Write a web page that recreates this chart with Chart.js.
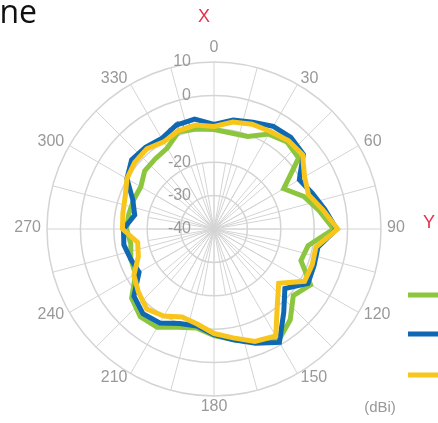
<!DOCTYPE html>
<html>
<head>
<meta charset="utf-8">
<script src="https://cdn.jsdelivr.net/npm/chart.js@4"></script>
<style>
  html, body { margin: 0; padding: 0; background: #fff; overflow: hidden; }
  #wrap { position: relative; width: 438px; height: 426px; }
</style>
</head>
<body>
<div id="wrap"><canvas id="polar"></canvas></div>
<script>
const angles = ["0","10","20","30","40","50","60","70","80","90","100","110",
  "120","130","140","150","160","170","180","190","200","210","220","230",
  "240","250","260","270","280","290","300","310","320","330","340","350"];

const tickValues = [-40, -30, -20, -10, 0, 10];

const seriesNames = ["2.4 GHz", "5.2 GHz", "5.8 GHz"];

const green = [-10.2,-10.8,-10.5,-7.2,-6.0,-6.9,-15.9,-11.4,-8.1,-4.2,-11.4,-12.3,
  -6.6,-9.0,-4.5,-1.4,-3.9,-6.3,-8.1,-9.9,-8.7,-6.0,-5.7,-7.8,
  -12.9,-13.5,-14.7,-13.8,-14.1,-14.4,-14.7,-12.9,-12.6,-12.0,-9.0,-9.6];

const blue = [-8.7,-6.9,-6.0,-4.5,-4.2,-5.1,-10.5,-8.7,-6.3,-3.3,-8.4,-8.1,
  -7.5,-12.3,-7.5,-0.8,-3.6,-6.3,-8.4,-10.5,-9.9,-7.5,-6.9,-8.7,
  -14.1,-13.5,-12.6,-12.9,-15.9,-14.1,-9.9,-7.8,-8.1,-8.7,-6.9,-6.6];

const yellow = [-9.3,-7.5,-6.6,-6.3,-5.4,-5.4,-8.7,-9.9,-6.9,-3.0,-9.0,-8.7,
  -8.7,-14.7,-10.5,-3.0,-4.2,-6.9,-8.7,-11.1,-12.0,-9.9,-8.7,-10.5,
  -12.3,-15.9,-16.8,-12.6,-12.3,-11.7,-9.9,-9.0,-8.7,-9.9,-8.7,-8.4];

const colors = ["#8cc63f", "#0f68b4", "#f8c51c"];
const gridColor = "#d4d4d4";
const labelColor = "#999";
const fontFam = "'Liberation Sans', Arial, sans-serif";

// spokes, ring labels and angle labels, drawn under the traces
const gridExtras = {
  id: "gridExtras",
  beforeDatasetsDraw(chart) {
    const s = chart.scales.r;
    const ctx = chart.ctx;
    const cx = s.xCenter, cy = s.yCenter;
    ctx.save();
    ctx.strokeStyle = gridColor;
    ctx.lineWidth = 1;
    // dense inner spokes every 10 deg
    const rIn = s.getDistanceFromCenterForValue(-20);
    for (let i = 0; i < angles.length; i++) {
      const p = s.getPointPosition(i, rIn);
      ctx.beginPath(); ctx.moveTo(cx, cy); ctx.lineTo(p.x, p.y); ctx.stroke();
    }
    // outer spokes every 15 deg
    const rOut = s.drawingArea;
    for (let a = 0; a < 360; a += 15) {
      const t = a * Math.PI / 180 - Math.PI / 2;
      ctx.beginPath(); ctx.moveTo(cx, cy);
      ctx.lineTo(cx + Math.cos(t) * rOut, cy + Math.sin(t) * rOut); ctx.stroke();
    }
    ctx.fillStyle = labelColor;
    ctx.font = "16px " + fontFam;
    ctx.textAlign = "right";
    ctx.textBaseline = "middle";
    for (const v of tickValues) {
      const y = cy - s.getDistanceFromCenterForValue(v);
      ctx.fillText(String(v), cx - 23, y);
    }
    // angle labels every 30 deg, anchored by their inner edge
    for (let i = 0; i < angles.length; i++) {
      const a = Number(angles[i]);
      if (a % 30 !== 0) continue;
      if (a === 0) {
        const p = s.getPointPosition(i, rOut + 10);
        ctx.textAlign = "center"; ctx.textBaseline = "alphabetic";
        ctx.fillText(angles[i], p.x, p.y);
      } else if (a === 180) {
        const p = s.getPointPosition(i, rOut + 3);
        ctx.textAlign = "center"; ctx.textBaseline = "top";
        ctx.fillText(angles[i], p.x, p.y);
      } else {
        const p = s.getPointPosition(i, rOut + 6);
        ctx.textAlign = a < 180 ? "left" : "right";
        ctx.textBaseline = "middle";
        ctx.fillText(angles[i], p.x, p.y - 1);
      }
    }
    ctx.restore();
  },
  afterDraw(chart) {
    const ctx = chart.ctx;
    ctx.save();
    // title, cropped on the left like the source
    ctx.fillStyle = "#111";
    ctx.font = "32px 'Open Sans', sans-serif";
    ctx.textAlign = "right";
    ctx.textBaseline = "alphabetic";
    ctx.fillText("XY Plane", 37, 23);
    // axis letters
    ctx.fillStyle = "#e8304a";
    ctx.font = "18px " + fontFam;
    ctx.textAlign = "center";
    ctx.textBaseline = "middle";
    ctx.fillText("X", 204, 17);
    ctx.fillText("Y", 429, 223);
    ctx.fillStyle = labelColor;
    ctx.font = "15px " + fontFam;
    ctx.fillText("(dBi)", 380, 408);
    // legend (text runs off the right edge)
    const ys = [295, 334, 375];
    ctx.lineWidth = 5;
    ctx.textAlign = "left";
    for (let i = 0; i < 3; i++) {
      ctx.strokeStyle = colors[i];
      ctx.beginPath(); ctx.moveTo(408, ys[i]); ctx.lineTo(446, ys[i]); ctx.stroke();
      ctx.fillStyle = "#333";
      ctx.fillText(seriesNames[i], 452, ys[i]);
    }
    ctx.restore();
  }
};

function makeSet(i, data, order) {
  return {
    label: seriesNames[i],
    data: data,
    borderColor: colors[i],
    backgroundColor: colors[i],
    borderWidth: 5,
    pointRadius: 0,
    fill: false,
    tension: 0,
    order: order
  };
}

new Chart(document.getElementById("polar"), {
  type: "radar",
  data: {
    labels: angles,
    datasets: [
      makeSet(0, green, 3),
      makeSet(1, blue, 2),
      makeSet(2, yellow, 1)
    ]
  },
  options: {
    responsive: true,
    maintainAspectRatio: false,
    animation: false,
    layout: { padding: { left: 47, top: 62, right: 57, bottom: 30 } },
    plugins: { legend: { display: false }, tooltip: { enabled: false } },
    scales: {
      r: {
        min: -40,
        max: 10,
        ticks: { stepSize: 10, display: false },
        grid: {
          circular: true,
          color: ctx => ctx.index === 0 ? "rgba(0,0,0,0)" : gridColor,
          lineWidth: 1.5
        },
        angleLines: { display: false },
        pointLabels: { display: false }
      }
    }
  },
  plugins: [gridExtras]
});
</script>
</body>
</html>
